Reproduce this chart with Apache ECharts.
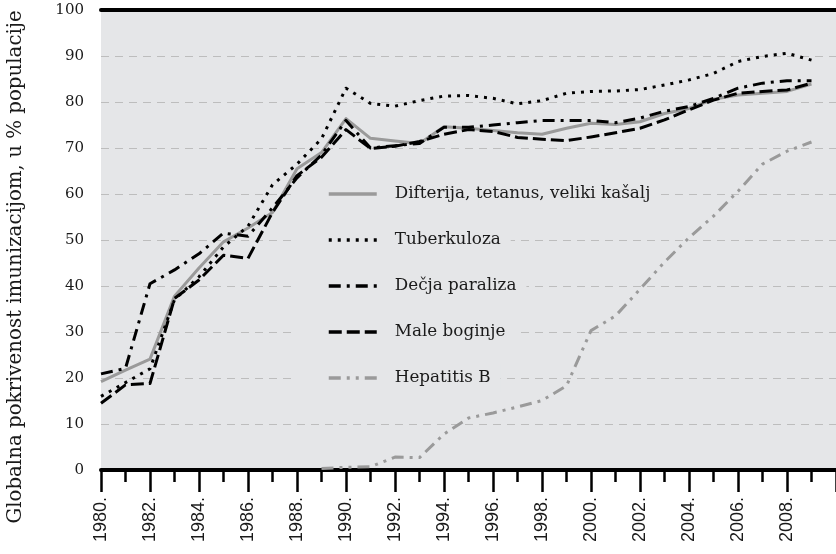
<!DOCTYPE html>
<html>
<head>
<meta charset="utf-8">
<script src="https://cdn.jsdelivr.net/npm/echarts@6/dist/echarts.min.js"></script>
<style>
html,body{margin:0;padding:0;background:#fff;}
#chart{width:836px;height:554px;}
</style>
</head>
<body>
<div id="chart"></div>
<script>
const years = [1980,1981,1982,1983,1984,1985,1986,1987,1988,1989,1990,1991,1992,1993,1994,1995,1996,1997,1998,1999,2000,2001,2002,2003,2004,2005,2006,2007,2008,2009];
const dtp = [19.2,21.7,24.1,37.8,43.9,49.6,52.6,56,65.5,69,76.4,72.1,71.5,71.0,74.6,74.3,73.8,73.3,73.0,74.3,75.4,75.1,75.7,77.5,78.6,80.6,81.5,81.9,82.3,83.9];
const tb = [16,19,22,37,42,48.5,53,62,66.5,72,83,79.7,79.1,80.3,81.3,81.4,80.8,79.6,80.3,81.9,82.3,82.4,82.7,83.7,84.8,86.2,88.8,89.9,90.6,89.1];
const polio = [20.9,22.1,40.5,43.5,47,51.5,50.8,57,63.5,68.5,76,70,70.5,71,74.5,74.5,75,75.5,76,76,76,75.5,76.5,78,79,80.8,83,84.1,84.6,84.6];
const measles = [14.5,18.5,18.8,37.3,41.3,46.7,46,56,64,68,74,69.9,70.4,71.4,73,74,73.6,72.3,71.9,71.6,72.4,73.3,74.3,76.1,78.3,80.4,81.9,82.3,82.6,84.1];
const hepB = [null,null,null,null,null,null,null,null,null,0.3,0.6,0.7,2.8,2.7,7.8,11.3,12.4,13.7,15.1,18.3,30.3,33.5,39.3,45.2,50.5,55.2,60.6,66.5,69.3,71.3];
const seriesNames = ['Difterija, tetanus, veliki kašalj','Tuberkuloza','Dečja paraliza','Male boginje','Hepatitis B'];
const yTicks = [0,10,20,30,40,50,60,70,80,90,100];
const yTitle = 'Globalna pokrivenost imunizacijom, u % populacije';

const pair = arr => years.map((y,i) => [y, arr[i]]);
const chart = echarts.init(document.getElementById('chart'));
const serif = 'DejaVu Serif';
const bg = '#e5e6e8';
const legendRowsValue = [60,50,40,30,20];
const plotTop = 10, plotBottomPx = 470;
const rowY = v => plotBottomPx - (plotBottomPx - plotTop) * v / 100;

const legends = seriesNames.map((n, i) => ({
  data: [n],
  left: 295,
  top: rowY(legendRowsValue[i]) - 14,
  orient: 'horizontal',
  padding: [4, 10, 4, 32],
  backgroundColor: bg,
  itemWidth: 48,
  itemHeight: 14,
  selectedMode: false,
  itemStyle: {color: 'rgba(0,0,0,0)', borderWidth: 0, opacity: 0},
  lineStyle: {width: 3.5, type: 'inherit', color: 'inherit', cap: 'butt'},
  textStyle: {fontFamily: serif, fontSize: 16.8, color: '#1a1a1a', lineHeight: 20, padding: [0,0,0,13]}
}));

function line(name, data, color, width, type, z) {
  return {
    name, type: 'line', data: pair(data), xAxisIndex: 0, yAxisIndex: 0,
    symbol: 'none', connectNulls: false, z,
    lineStyle: {color, width, type, cap: 'butt', join: 'round'},
    itemStyle: {color},
    emphasis: {disabled: true}
  };
}

chart.setOption({
  animation: false,
  backgroundColor: '#fff',
  grid: {left: 101, right: -22.2, top: plotTop, bottom: 554 - plotBottomPx, show: true, backgroundColor: bg, borderWidth: 0},
  legend: legends,
  xAxis: [{
    type: 'value', min: 1980, max: 2010, interval: 2, position: 'bottom',
    axisLine: {show: true, onZero: false, lineStyle: {color: '#000', width: 4}},
    axisTick: {show: true, length: 22, lineStyle: {color: '#000', width: 2.5}},
    minorTick: {show: true, splitNumber: 2, length: 12, lineStyle: {color: '#000', width: 2.5}},
    splitLine: {show: false}, minorSplitLine: {show: false},
    axisLabel: {rotate: 90, margin: 27, fontFamily: 'Liberation Sans', fontSize: 18, color: '#1a1a1a',
      formatter: v => (v <= 2008 ? v + '.' : '')}
  }, {
    type: 'value', min: 1980, max: 2010, position: 'top',
    axisLine: {show: true, onZero: false, lineStyle: {color: '#000', width: 4}},
    axisTick: {show: false}, axisLabel: {show: false}, splitLine: {show: false}
  }],
  yAxis: {
    type: 'value', min: 0, max: 100, interval: 10,
    axisLine: {show: false}, axisTick: {show: false},
    axisLabel: {margin: 17, fontFamily: serif, fontSize: 15, color: '#1a1a1a',
      formatter: v => (yTicks.includes(v) ? String(v) : '')},
    splitLine: {show: true, lineStyle: {color: '#bdbdbd', width: 1, type: [8, 6]}}
  },
  graphic: [{
    type: 'text', x: 16, y: 267, rotation: Math.PI / 2,
    style: {text: yTitle, fontFamily: serif, fontSize: 19.8, fill: '#1a1a1a', align: 'center', verticalAlign: 'middle'}
  }],
  series: [
    line(seriesNames[4], hepB, '#9a9a9a', 3, [12, 6, 3, 6, 3, 6], 2),
    line(seriesNames[0], dtp, '#9a9a9a', 3, 'solid', 3),
    line(seriesNames[1], tb, '#000', 3, [3, 6], 4),
    line(seriesNames[2], polio, '#000', 3, [12, 6, 3, 6], 5),
    line(seriesNames[3], measles, '#000', 3, [13, 5], 6)
  ]
});
</script>
</body>
</html>
